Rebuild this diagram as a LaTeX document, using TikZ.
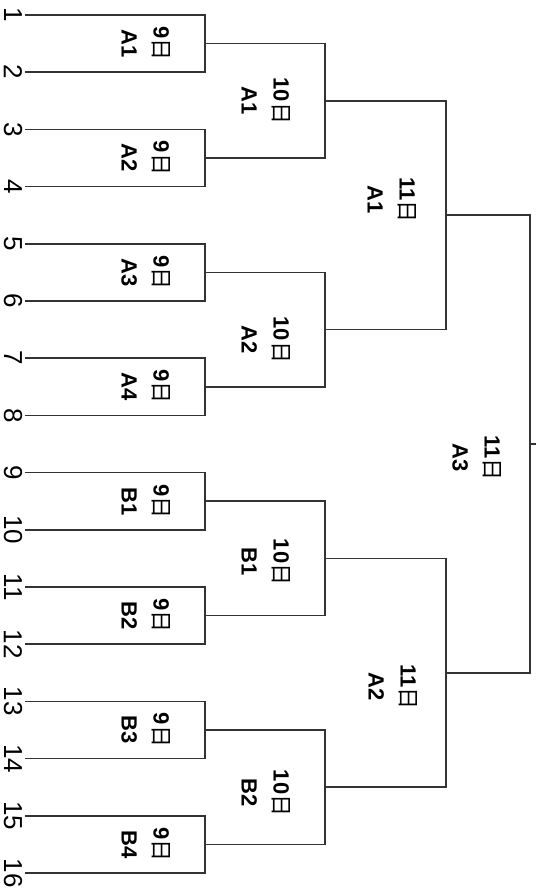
\documentclass[tikz,border=0pt]{standalone}
\usepackage{fontspec}
\setmainfont{Liberation Sans}
\newfontfamily\cjk{Noto Sans CJK JP}
\usetikzlibrary{calc}
\newcommand{\nichi}{{\cjk\mdseries 日}}
\definecolor{inkgray}{rgb}{0.2,0.2,0.2}
\tikzstyle{num} = [rotate=-90,inner sep=0pt,font=\fontsize{26}{28}\selectfont]
\tikzstyle{lab} = [rotate=-90,inner sep=0pt,align=center,font=\fontsize{22}{32}\selectfont\bfseries]
\tikzstyle{br} = [line width=1.6pt,inkgray]

\begin{document}
\begin{tikzpicture}[x=1pt,y=-1pt]
  \useasboundingbox (0,0) rectangle (536,893);
  % entrants
  \foreach \i in {1,...,16}{
    \pgfmathsetmacro{\yy}{15+(\i-1)*57.2}
    \coordinate (e\i) at (25,\yy);
    \node[num] (n\i) at (13,\yy) {\i};
  }
  % meeting points of each round
  \foreach \k in {1,...,8}{
    \pgfmathsetmacro{\yy}{15+(2*\k-1.5)*57.2}
    \coordinate (m1-\k) at (205,\yy);
  }
  \foreach \k in {1,...,4}{
    \pgfmathsetmacro{\yy}{15+(4*\k-2.5)*57.2}
    \coordinate (m2-\k) at (325,\yy);
  }
  \foreach \k in {1,2}{
    \pgfmathsetmacro{\yy}{15+(8*\k-4.5)*57.2}
    \coordinate (m3-\k) at (446,\yy);
  }
  \coordinate (m4) at (530,444);
  \coordinate (win) at (536,444);
  % brackets
  \foreach \k in {1,...,8}{
    \pgfmathtruncatemacro{\a}{2*\k-1}
    \pgfmathtruncatemacro{\b}{2*\k}
    \draw[br] (e\a) -| (m1-\k) |- (e\b);
  }
  \foreach \k in {1,...,4}{
    \pgfmathtruncatemacro{\a}{2*\k-1}
    \pgfmathtruncatemacro{\b}{2*\k}
    \draw[br] (m1-\a) -| (m2-\k) |- (m1-\b);
  }
  \foreach \k in {1,2}{
    \pgfmathtruncatemacro{\a}{2*\k-1}
    \pgfmathtruncatemacro{\b}{2*\k}
    \draw[br] (m2-\a) -| (m3-\k) |- (m2-\b);
  }
  \draw[br] (m3-1) -| (m4) |- (m3-2);
  \draw[br] (m4) -- (win);
  % days and groups
  \foreach \k/\nm in {1/A1,2/A2,3/A3,4/A4,5/B1,6/B2,7/B3,8/B4}
    \node[lab] (d9-\k) at ($(m1-\k)+(-59,0)$) {9\nichi\\\nm};
  \node[lab] (d10-1) at (266,101) {10\nichi\\A1};
  \node[lab] (d10-2) at (266,340) {10\nichi\\A2};
  \node[lab] (d10-3) at (266,562) {10\nichi\\B1};
  \node[lab] (d10-4) at (266,793) {10\nichi\\B2};
  \node[lab] (d11-1) at (392,200) {11\nichi\\A1};
  \node[lab] (d11-2) at (393,687) {11\nichi\\A2};
  \node[lab] (d11-3) at (477,458) {11\nichi\\A3};
\end{tikzpicture}
\end{document}
